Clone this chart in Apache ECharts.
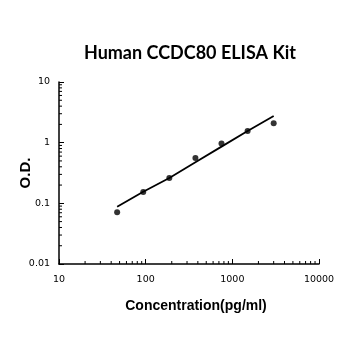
<!DOCTYPE html>
<html>
<head>
<meta charset="utf-8">
<script src="https://cdn.jsdelivr.net/npm/echarts@6/dist/echarts.min.js"></script>
<style>html,body{margin:0;padding:0;background:#fff}#c{width:350px;height:350px}</style>
</head>
<body>
<div id="c"></div>
<script>
const chartTitle = 'Human CCDC80 ELISA Kit';
const xName = 'Concentration(pg/ml)';
const yName = 'O.D.';
const xTickLabels = ['10', '100', '1000', '10000'];
const yTickLabels = ['0.01', '0.1', '1', '10'];
const concentrations = [46.875, 93.75, 187.5, 375, 750, 1500, 3000];
const odValues = [0.071, 0.154, 0.261, 0.56, 0.97, 1.55, 2.08];
const fitConc = [46.875, 93.75, 187.5, 375, 750, 1500, 3000];
const fitOD = [0.088, 0.155, 0.262, 0.475, 0.86, 1.56, 2.75];
const minorSteps = [2, 3, 4, 5, 6, 7, 8, 9];
const xDecades = [10, 100, 1000];
const yDecades = [0.01, 0.1, 1];

const xMinor = [];
xDecades.forEach(d => minorSteps.forEach(s => xMinor.push([d * s])));
const yMinor = [];
yDecades.forEach(d => minorSteps.forEach(s => yMinor.push([d * s])));

const chart = echarts.init(document.getElementById('c'), null, {renderer: 'canvas'});
chart.setOption({
  animation: false,
  backgroundColor: '#fff',
  title: {
    text: chartTitle,
    left: 190,
    textAlign: 'center',
    top: 44,
    padding: 0,
    textStyle: {fontFamily: 'Lato', fontWeight: 'bold', fontSize: 18, color: '#000'}
  },
  grid: {left: 59, right: 31, top: 82, bottom: 86, containLabel: false, outerBoundsMode: 'none'},
  xAxis: {
    type: 'log', min: 10, max: 10000, logBase: 10,
    name: xName, nameLocation: 'middle', nameGap: 35, nameMoveOverlap: false,
    nameTextStyle: {fontFamily: 'Liberation Sans', fontWeight: 'bold', fontSize: 14, color: '#000', padding: [0, 0, 0, 14]},
    axisLine: {lineStyle: {color: '#000', width: 1.5}},
    axisTick: {inside: true, length: 5, lineStyle: {color: '#000'}},
    axisLabel: {fontFamily: 'DejaVu Sans', fontSize: 9.5, color: '#000', margin: 11,
      formatter: (v, i) => xTickLabels[i]},
    splitLine: {show: false}
  },
  yAxis: {
    type: 'log', min: 0.01, max: 10, logBase: 10,
    name: yName, nameLocation: 'middle', nameGap: 26, nameRotate: 90, nameMoveOverlap: false,
    nameTextStyle: {fontFamily: 'Liberation Sans', fontWeight: 'bold', fontSize: 15, color: '#000'},
    axisLine: {lineStyle: {color: '#000', width: 1.5}},
    axisTick: {inside: true, length: 5, lineStyle: {color: '#000'}},
    axisLabel: {fontFamily: 'DejaVu Sans', fontSize: 9.5, color: '#000', margin: 9,
      formatter: (v, i) => yTickLabels[i]},
    splitLine: {show: false}
  },
  series: [
    {
      type: 'custom', name: 'xMinor', data: xMinor, silent: true, clip: false,
      renderItem: (params, api) => {
        const p = api.coord([api.value(0), 0.01]);
        return {type: 'line', shape: {x1: p[0], y1: p[1], x2: p[0], y2: p[1] - 3},
          style: {stroke: '#000', lineWidth: 1}};
      }
    },
    {
      type: 'custom', name: 'yMinor', data: yMinor, silent: true, clip: false,
      encode: {y: 0},
      renderItem: (params, api) => {
        const p = api.coord([10, api.value(0)]);
        return {type: 'line', shape: {x1: p[0], y1: p[1], x2: p[0] + 3, y2: p[1]},
          style: {stroke: '#000', lineWidth: 1}};
      }
    },
    {
      type: 'line', name: 'fit', data: fitConc.map((c, i) => [c, fitOD[i]]),
      showSymbol: false, symbol: 'none', smooth: false,
      lineStyle: {color: '#000', width: 1.8}
    },
    {
      type: 'scatter', name: 'points', data: concentrations.map((c, i) => [c, odValues[i]]),
      symbol: 'circle', symbolSize: 6, itemStyle: {color: '#000'}
    }
  ]
});
</script>
</body>
</html>
